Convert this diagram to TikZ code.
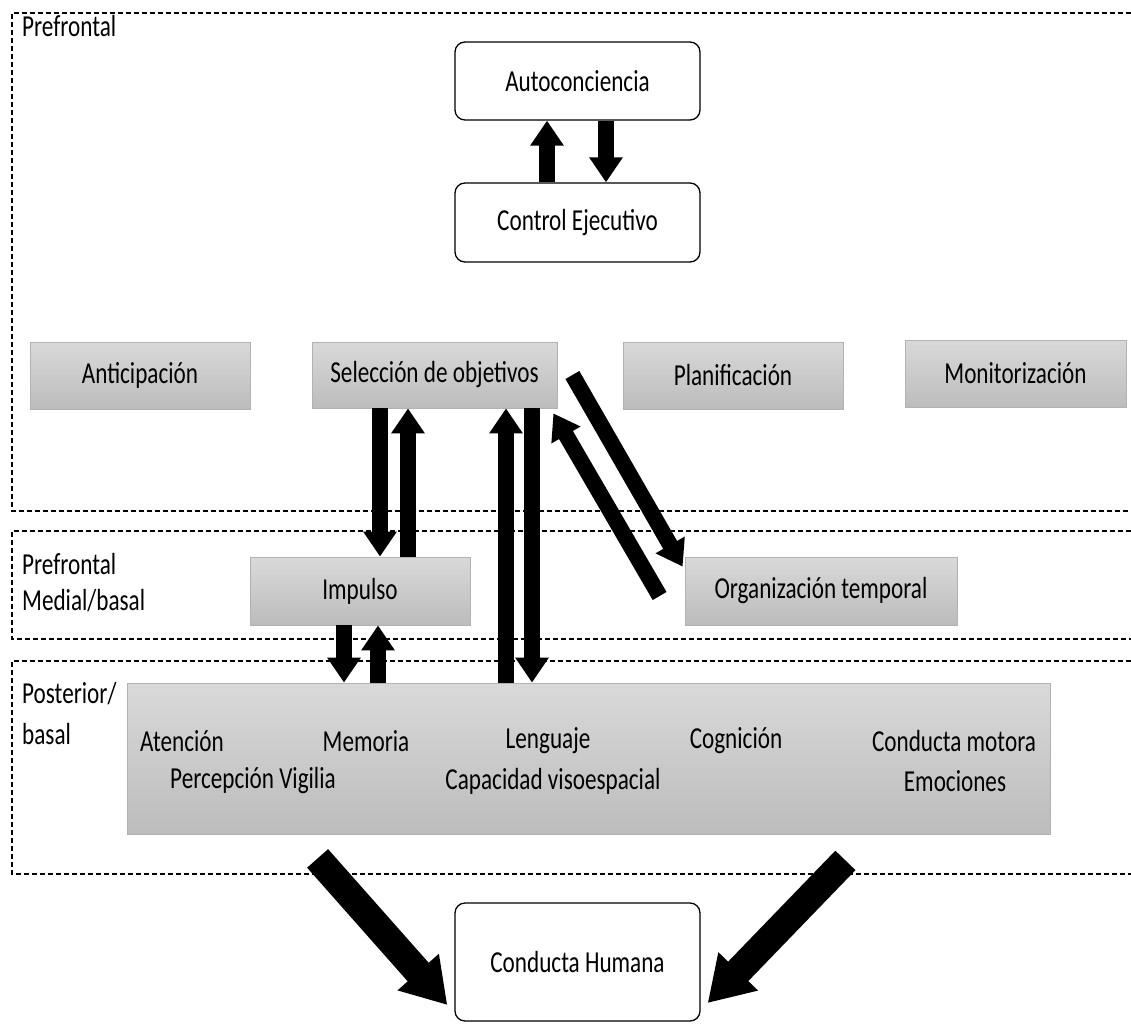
\documentclass[tikz,border=0pt]{standalone}
\usepackage{fontspec}
\setmainfont{Carlito}[FakeStretch=0.76]
\usetikzlibrary{arrows.meta}

\definecolor{boxtop}{RGB}{217,217,217}
\definecolor{boxbot}{RGB}{188,188,188}
\definecolor{boxedge}{RGB}{178,178,178}

\begin{document}
\begin{tikzpicture}[x=1pt,y=-1pt,
  every node/.style={font=\fontsize{30.5}{34}\selectfont, inner sep=0pt},
  whitebox/.style={draw=black, line width=1.3pt, rounded corners=10pt, fill=white},
  graybox/.style={draw=boxedge, line width=0.8pt, top color=boxtop, bottom color=boxbot},
  zone/.style={dash pattern=on 5pt off 3pt, line width=1.1pt, black},
  fat/.style={line width=16pt, -{Triangle[width=32pt,length=25pt]}},
  wide/.style={line width=28pt, -{Triangle[width=52pt,length=44pt]}},
  lbl/.style={anchor=west, align=left},
  item/.style={anchor=center},
]
\useasboundingbox (0,0) rectangle (1131,1024);

% dashed zones, open on the right
\draw[zone] (1131,13) -- (12,13) -- (12,511) -- (1131,511);
\draw[zone] (1131,531) -- (12,531) -- (12,639) -- (1131,639);
\draw[zone] (1131,661) -- (12,661) -- (12,874) -- (1131,874);

% zone labels
\node[lbl] (zpf) at (22,26) {Prefrontal};
\node[lbl] (zmb1) at (22,564) {Prefrontal};
\node[lbl] (zmb2) at (22,601) {Medial/basal};
\node[lbl] (zpb1) at (22,694) {Posterior/};
\node[lbl] (zpb2) at (22,734) {basal};

% executive boxes
\node[whitebox, minimum width=245pt, minimum height=78pt] (auto) at (577.5,81) {Autoconciencia};
\node[whitebox, minimum width=245pt, minimum height=79pt] (ctrl) at (577.5,222.5) {Control Ejecutivo};

% prefrontal functions
\node[graybox, minimum width=220pt, minimum height=67pt] (ant) at (140,375.5) {Anticipación};
\node[graybox, minimum width=245pt, minimum height=66pt] (sel) at (434.5,375) {Selección de objetivos};
\node[graybox, minimum width=220pt, minimum height=67pt] (plan) at (733,375.5) {Planificación};
\node[graybox, minimum width=221pt, minimum height=67pt] (mon) at (1015.5,373.5) {Monitorización};

% medial/basal
\node[graybox, minimum width=220pt, minimum height=68pt] (imp) at (360,591) {Impulso};
\node[graybox, minimum width=272pt, minimum height=68pt] (org) at (821,591) {Organización temporal};

% posterior/basal
\node[graybox, minimum width=923pt, minimum height=151pt] (post) at (588.5,758.5) {};
\node[item] (aten) at (182,741) {Atención};
\node[item] (mem) at (366,741) {Memoria};
\node[item] (leng) at (548,741) {Lenguaje};
\node[item] (cog) at (736,741) {Cognición};
\node[item] (mot) at (954,741) {Conducta motora};
\node[item] (perc) at (253,781) {Percepción Vigilia};
\node[item] (visu) at (553,781) {Capacidad visoespacial};
\node[item] (emo) at (955,781) {Emociones};

% outcome
\node[whitebox, minimum width=245pt, minimum height=118pt] (hum) at (577.5,962) {Conducta Humana};

% arrows between executive boxes
\draw[fat] ([xshift=-30.5pt]ctrl.north) -- ([xshift=-30.5pt]auto.south);
\draw[fat] ([xshift=28.5pt]auto.south) -- ([xshift=28.5pt]ctrl.north);

% selection <-> impulse
\draw[fat] ([xshift=-54.5pt]sel.south) -- ([xshift=20pt]imp.north);
\draw[fat] ([xshift=48pt]imp.north) -- ([xshift=-26.5pt]sel.south);

% selection <-> posterior
\draw[fat] ([xshift=-82.5pt]post.north) -- ([xshift=71.5pt]sel.south);
\draw[fat] ([xshift=97.5pt]sel.south) -- ([xshift=-56.5pt]post.north);

% impulse <-> posterior
\draw[fat] ([xshift=-16pt]imp.south) -- ([xshift=-244.5pt]post.north);
\draw[fat] ([xshift=-210.5pt]post.north) -- ([xshift=18pt]imp.south);

% selection <-> temporal organisation
\draw[fat] ([xshift=15pt]sel.east) -- ([xshift=-2pt,yshift=-10pt]org.north west);
\draw[fat] ([xshift=-25pt,yshift=-5pt]org.west) -- ([xshift=-4pt,yshift=-5pt]sel.south east);

% posterior -> human behaviour
\draw[wide] ([xshift=191pt,yshift=-24pt]post.south west) -- ([xshift=-7pt,yshift=-43pt]hum.west);
\draw[wide] ([xshift=-205pt,yshift=-26pt]post.south east) -- ([xshift=7pt,yshift=-41pt]hum.east);
\end{tikzpicture}
\end{document}
